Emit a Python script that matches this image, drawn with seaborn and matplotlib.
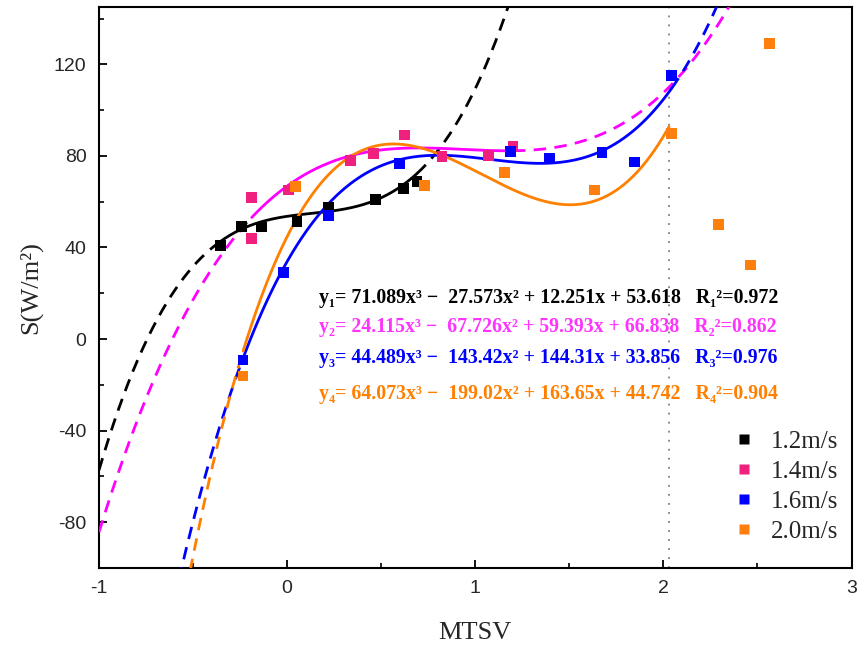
import numpy as np
import pandas as pd
import matplotlib
matplotlib.use("Agg")
import matplotlib.pyplot as plt
import seaborn as sns

# ---------------- data ----------------
labels = ["1.2m/s", "1.4m/s", "1.6m/s", "2.0m/s"]

x12 = [-0.356, -0.241, -0.135, 0.052, 0.218, 0.468, 0.617, 0.690]
y12 = [41.0, 49.3, 49.0, 51.2, 57.6, 61.1, 65.9, 68.7]

x14 = [-0.188, -0.188, 0.007, 0.335, 0.459, 0.622, 0.823, 1.071, 1.200]
y14 = [61.7, 44.0, 65.1, 77.9, 81.1, 89.1, 79.9, 80.3, 84.0]

x16 = [-0.234, -0.020, 0.220, 0.597, 1.186, 1.395, 1.674, 1.846, 2.043]
y16 = [-9.2, 29.0, 53.9, 76.7, 82.1, 78.9, 81.4, 77.4, 115.3]

x20 = [-0.234, 0.043, 0.729, 1.154, 1.633, 2.043, 2.293, 2.463, 2.566]
y20 = [-16.2, 66.5, 67.2, 72.6, 65.1, 89.8, 50.2, 32.3, 129.1]

# cubic fit coefficients (a3, a2, a1, a0) as printed on the chart
coef12 = [71.089, -27.573, 12.251, 53.618]
coef14 = [24.115, -67.726, 59.393, 66.838]
coef16 = [44.489, -143.42, 144.31, 33.856]
coef20 = [64.073, -199.02, 163.65, 44.742]

# fitted (solid) ranges and dashed extrapolation ranges
solid_rng = [(-0.356, 0.690), (-0.188, 1.200), (-0.234, 2.043), (-0.234, 2.030)]
dash_rng = [[(-1.0, -0.356), (0.690, 1.3)],
            [(-1.0, -0.188), (1.200, 2.5)],
            [(-0.6, -0.234), (2.043, 2.4)],
            [(-0.6, -0.234)]]

eq_texts = [
    "y\u2081= 71.089x\u00b3 \u2212  27.573x\u00b2 + 12.251x + 53.618   R\u2081\u00b2=0.972",
    "y\u2082= 24.115x\u00b3 \u2212  67.726x\u00b2 + 59.393x + 66.838   R\u2082\u00b2=0.862",
    "y\u2083= 44.489x\u00b3 \u2212  143.42x\u00b2 + 144.31x + 33.856   R\u2083\u00b2=0.976",
    "y\u2084= 64.073x\u00b3 \u2212  199.02x\u00b2 + 163.65x + 44.742   R\u2084\u00b2=0.904",
]

vline_x = 2.03

# ---------------- style ----------------
marker_colors = ["#000000", "#F0207F", "#0000FF", "#FF7F0E"]
line_colors = ["#000000", "#FF00FF", "#0000FF", "#FF8000"]
text_colors = ["#000000", "#FF33FF", "#0000FF", "#FF8000"]

sns.set_theme(style="ticks")
plt.rcParams["font.family"] = ["Liberation Sans", "DejaVu Sans"]
plt.rcParams["axes.unicode_minus"] = False

fig = plt.figure(figsize=(8.63, 6.52), dpi=100)
ax = fig.add_axes([0.1147, 0.129, 0.872, 0.860])

coefs = [coef12, coef14, coef16, coef20]
xs = [x12, x14, x16, x20]
ys = [y12, y14, y16, y20]

for i in range(4):
    p = np.poly1d(coefs[i])
    lo, hi = solid_rng[i]
    xx = np.linspace(lo, hi, 200)
    sns.lineplot(x=xx, y=p(xx), ax=ax, color=line_colors[i], lw=2.0,
                 sort=False, legend=False, zorder=3)
    for (a, b) in dash_rng[i]:
        xx = np.linspace(a, b, 200)
        sns.lineplot(x=xx, y=p(xx), ax=ax, color=line_colors[i], lw=2.0,
                     linestyle=(0, (4.5, 3)), sort=False, legend=False, zorder=3)

frames = []
for i in range(4):
    frames.append(pd.DataFrame({"x": xs[i], "y": ys[i], "group": labels[i]}))
df = pd.concat(frames, ignore_index=True)
sns.scatterplot(data=df, x="x", y="y", hue="group", hue_order=labels,
                palette=marker_colors, marker="s", s=60, edgecolor="none",
                ax=ax, zorder=4)

ax.axvline(vline_x, color="#808080", lw=1.3, linestyle=(0, (1, 4)), zorder=2)

ax.set_xlim(-1, 3)
ax.set_ylim(-100, 145)
ax.set_xticks([-1, 0, 1, 2, 3])
ax.set_xticks([-0.5, 0.5, 1.5, 2.5], minor=True)
ax.set_yticks([-80, -40, 0, 40, 80, 120])
ax.set_yticks([-60, -20, 20, 60, 100, 140], minor=True)
ax.tick_params(axis="both", which="major", direction="in", length=6, width=1.3,
               labelsize=14, pad=9, color="black")
ax.tick_params(axis="both", which="minor", direction="in", length=3.5, width=1.2,
               color="black")
for s in ax.spines.values():
    s.set_linewidth(1.5)
    s.set_color("black")

ax.set_xlabel("MTSV", family=["Liberation Serif", "DejaVu Serif"], fontsize=19, labelpad=18)
ax.set_ylabel("S(W/m\u00b2)", family=["Liberation Serif", "DejaVu Serif"], fontsize=19, labelpad=8)

leg = ax.legend(loc="lower right", bbox_to_anchor=(1.012, 0.005), frameon=False,
                prop={"family": ["Liberation Serif", "DejaVu Serif"], "size": 18},
                handletextpad=0.05, labelspacing=0.3, markerscale=1.0)

eq_y = [0.481, 0.430, 0.375, 0.311]
for i in range(4):
    ax.text(0.293, eq_y[i], eq_texts[i], transform=ax.transAxes, color=text_colors[i],
            fontsize=14.3, fontweight="bold", family=["Liberation Serif", "DejaVu Serif"],
            va="center", ha="left", zorder=5)

fig.savefig("out.png", dpi=100)
